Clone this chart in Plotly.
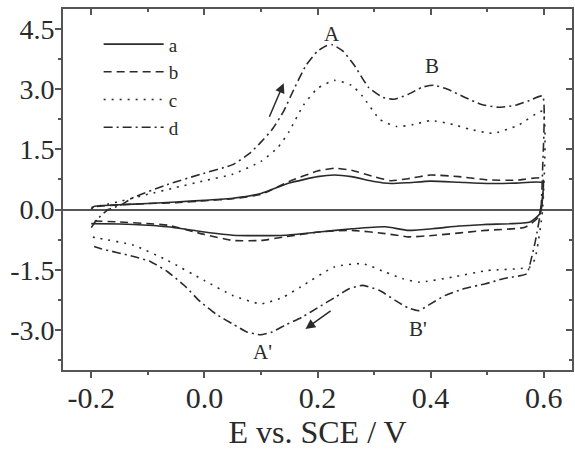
import plotly.graph_objects as go

# ---- data (potential E / V vs SCE, current) ----
E_a = [-0.2, -0.195, -0.15, -0.1, -0.05, 0.0, 0.05, 0.1, 0.15, 0.2, 0.23, 0.26, 0.3, 0.33, 0.36, 0.4, 0.45, 0.5, 0.55, 0.598,
       0.598, 0.594, 0.576, 0.5, 0.45, 0.408, 0.361, 0.32, 0.261, 0.202, 0.143, 0.1, 0.05, 0.0, -0.065, -0.1, -0.15, -0.2]
I_a = [0.0, 0.08, 0.12, 0.15, 0.19, 0.23, 0.28, 0.4, 0.66, 0.82, 0.86, 0.82, 0.7, 0.65, 0.67, 0.71, 0.68, 0.65, 0.66, 0.67,
       0.3, -0.09, -0.31, -0.37, -0.41, -0.47, -0.52, -0.43, -0.48, -0.56, -0.64, -0.65, -0.64, -0.56, -0.43, -0.39, -0.36, -0.35]

E_b = [-0.19, -0.15, -0.1, -0.05, 0.0, 0.05, 0.1, 0.15, 0.2, 0.23, 0.26, 0.3, 0.33, 0.36, 0.4, 0.45, 0.5, 0.55, 0.598,
       0.598, 0.59, 0.567, 0.497, 0.408, 0.361, 0.32, 0.261, 0.202, 0.143, 0.1, 0.05, 0.0, -0.065, -0.1, -0.15, -0.2]
I_b = [0.08, 0.12, 0.15, 0.17, 0.22, 0.27, 0.38, 0.7, 0.96, 1.03, 0.98, 0.82, 0.72, 0.77, 0.86, 0.82, 0.74, 0.73, 0.78,
       0.3, -0.2, -0.44, -0.52, -0.64, -0.68, -0.6, -0.52, -0.56, -0.68, -0.77, -0.77, -0.62, -0.39, -0.35, -0.31, -0.28]

E_c = [-0.2, -0.15, -0.1, -0.05, 0.0, 0.05, 0.1, 0.13, 0.15, 0.175, 0.2, 0.23, 0.26, 0.28, 0.31, 0.34, 0.37, 0.4, 0.44, 0.47, 0.51, 0.555, 0.598,
       0.598, 0.585, 0.576, 0.5, 0.44, 0.38, 0.35, 0.32, 0.28, 0.23, 0.17, 0.14, 0.1, 0.05, 0.0, -0.065, -0.125, -0.185, -0.2]
I_c = [0.05, 0.2, 0.38, 0.55, 0.72, 0.88, 1.2, 1.55, 1.95, 2.6, 3.02, 3.22, 3.1, 2.82, 2.25, 2.07, 2.12, 2.22, 2.12, 2.0, 1.9, 2.1, 2.45,
       0.0, -1.2, -1.43, -1.52, -1.68, -1.81, -1.72, -1.56, -1.35, -1.43, -1.93, -2.18, -2.35, -2.14, -1.77, -1.27, -0.89, -0.72, -0.68]

E_d = [-0.2, -0.19, -0.17, -0.15, -0.125, -0.066, -0.007, 0.05, 0.08, 0.1, 0.12, 0.14, 0.16, 0.18, 0.2, 0.215, 0.226, 0.245, 0.265,
       0.29, 0.315, 0.335, 0.36, 0.385, 0.405, 0.43, 0.46, 0.49, 0.52, 0.55, 0.575, 0.598,
       0.598, 0.595, 0.585, 0.575, 0.57, 0.53, 0.497, 0.46, 0.426, 0.4, 0.379, 0.36, 0.338, 0.31, 0.279, 0.255, 0.232, 0.2,
       0.173, 0.143, 0.12, 0.099, 0.075, 0.052, 0.02, -0.007, -0.035, -0.065, -0.095, -0.125, -0.155, -0.184, -0.2]
I_d = [-0.45, -0.25, 0.0, 0.1, 0.3, 0.62, 0.88, 1.12, 1.4, 1.68, 2.0, 2.45, 3.05, 3.6, 3.95, 4.08, 4.11, 3.95, 3.6,
       3.05, 2.8, 2.75, 2.87, 3.05, 3.1, 3.0, 2.8, 2.62, 2.55, 2.6, 2.72, 2.83,
       1.0, 0.0, -0.8, -1.4, -1.6, -1.72, -1.85, -1.97, -2.14, -2.35, -2.52, -2.45, -2.27, -2.02, -1.89, -1.98, -2.18, -2.45,
       -2.68, -2.88, -3.05, -3.12, -3.05, -2.87, -2.6, -2.3, -1.9, -1.55, -1.3, -1.17, -1.07, -0.97, -0.9]

series_names = ["a", "b", "c", "d"]
x_tickvals = [-0.2, 0.0, 0.2, 0.4, 0.6]
x_ticktext = ["-0.2", "0.0", "0.2", "0.4", "0.6"]
y_tickvals = [-3.0, -1.5, 0.0, 1.5, 3.0, 4.5]
y_ticktext = ["-3.0", "-1.5", "0.0", "1.5", "3.0", "4.5"]

FONT = "Liberation Serif"
INK = "#2a2a2a"
AX = "#555555"

fig = go.Figure()
styles = ["solid", "8px,5px", "2px,6px", "9px,4px,2px,4px"]
for name, xs, ys, dash in zip(series_names, [E_a, E_b, E_c, E_d], [I_a, I_b, I_c, I_d], styles):
    fig.add_trace(go.Scatter(x=xs, y=ys, mode="lines", name=name,
                             line=dict(color=INK, width=1.6, dash=dash, shape="spline", smoothing=0.5)))

# dummy trace to create mirrored top/right axes with inward ticks
fig.add_trace(go.Scatter(x=[None], y=[None], xaxis="x2", yaxis="y2", showlegend=False, hoverinfo="skip"))

xr = [-0.25, 0.65]
yr = [-4.0, 5.0]
fig.update_layout(
    width=575, height=451,
    margin=dict(l=63, r=3, t=9, b=81),
    paper_bgcolor="white", plot_bgcolor="white",
    font=dict(family=FONT, color=INK),
    showlegend=True,
    legend=dict(x=0.07, y=0.955, xanchor="left", yanchor="top",
                font=dict(family=FONT, size=19, color=INK),
                bgcolor="rgba(0,0,0,0)", tracegroupgap=0, itemwidth=60),
    xaxis=dict(range=xr, tickvals=x_tickvals, ticktext=x_ticktext,
               ticks="outside", ticklen=6, tickwidth=1.5, tickcolor=AX,
               minor=dict(tick0=0, dtick=0.1, ticks="outside", ticklen=3, tickwidth=1.5, tickcolor=AX),
               showline=True, linewidth=1.8, linecolor=AX, showgrid=False, zeroline=False,
               tickfont=dict(family=FONT, size=30, color=INK), ticklabelstandoff=-6,
               title=dict(text="E vs. SCE / V", font=dict(family=FONT, size=32, color=INK), standoff=6)),
    yaxis=dict(range=yr, tickvals=y_tickvals, ticktext=y_ticktext,
               ticks="outside", ticklen=6, tickwidth=1.5, tickcolor=AX,
               minor=dict(tick0=0, dtick=0.75, ticks="outside", ticklen=3, tickwidth=1.5, tickcolor=AX),
               showline=True, linewidth=1.8, linecolor=AX, showgrid=False,
               zeroline=True, zerolinecolor=AX, zerolinewidth=1.5,
               tickfont=dict(family=FONT, size=28, color=INK), ticklabelstandoff=-5),
    xaxis2=dict(range=xr, overlaying="x", side="top", anchor="y2", tickvals=x_tickvals,
                ticks="inside", ticklen=6, tickwidth=1.5, tickcolor=AX, showticklabels=False,
                minor=dict(tick0=0, dtick=0.1, ticks="inside", ticklen=3, tickwidth=1.5, tickcolor=AX),
                showline=True, linewidth=1.8, linecolor=AX, showgrid=False, zeroline=False),
    yaxis2=dict(range=yr, overlaying="y", side="right", anchor="x2", tickvals=y_tickvals,
                ticks="inside", ticklen=6, tickwidth=1.5, tickcolor=AX, showticklabels=False,
                minor=dict(tick0=0, dtick=0.75, ticks="inside", ticklen=3, tickwidth=1.5, tickcolor=AX),
                showline=True, linewidth=1.8, linecolor=AX, showgrid=False, zeroline=False),
)

labels = [("A", 0.226, 4.375), ("B", 0.4027, 3.59), ("A'", 0.1022, -3.56), ("B'", 0.3785, -2.97)]
for t, x, y in labels:
    fig.add_annotation(x=x, y=y, xref="x", yref="y", text=t, showarrow=False,
                       font=dict(family=FONT, size=21, color=INK))

arrows = [((0.1138, 2.275), (0.1403, 3.15)), ((0.2259, -2.5), (0.1787, -2.975))]
for (tx, ty), (hx, hy) in arrows:
    fig.add_annotation(x=hx, y=hy, ax=tx, ay=ty, xref="x", yref="y", axref="x", ayref="y",
                       text="", showarrow=True, arrowhead=2, arrowsize=1.3, arrowwidth=1.5, arrowcolor=INK)

fig.write_html("out.html")
